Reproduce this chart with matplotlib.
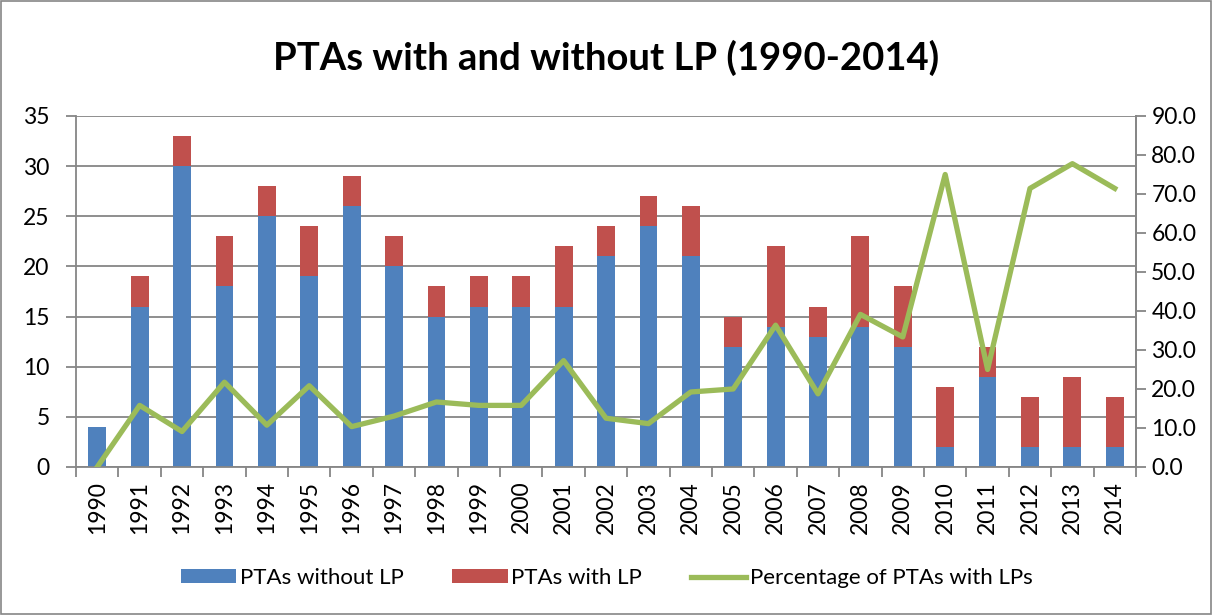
import matplotlib
matplotlib.use("Agg")
from matplotlib import pyplot as plt
import numpy as np

years = list(range(1990, 2015))
without_lp = [4, 16, 30, 18, 25, 19, 26, 20, 15, 16, 16, 16, 21, 24, 21, 12, 14, 13, 14, 12, 2, 9, 2, 2, 2]
with_lp = [0, 3, 3, 5, 3, 5, 3, 3, 3, 3, 3, 6, 3, 3, 5, 3, 8, 3, 9, 6, 6, 3, 5, 7, 5]
total = [a + b for a, b in zip(without_lp, with_lp)]
pct = [100.0 * b / t for b, t in zip(with_lp, total)]

plt.rcParams['font.family'] = ['Lato', 'DejaVu Sans']
grey = '#868686'

fig = plt.figure(figsize=(12.13, 6.15), dpi=100)
# outer border
fig.patches.append(plt.Rectangle((0.001, 0.001), 0.997, 0.997, transform=fig.transFigure,
                                 fill=False, edgecolor=grey, linewidth=1.2))
ax = fig.add_axes([0.0627, 0.2407, 0.8738, 0.5707])
x = np.arange(len(years))
b1 = ax.bar(x, without_lp, width=0.42, color='#4F81BD', label='PTAs without LP', zorder=2)
b2 = ax.bar(x, with_lp, width=0.42, bottom=without_lp, color='#C0504D', label='PTAs with LP', zorder=2)
ax.set_xlim(-0.5, len(years) - 0.5)
ax.set_ylim(0, 35)
ax.set_yticks(range(0, 36, 5))
ax.yaxis.grid(True, color=grey, linewidth=1.3, zorder=0)
ax.set_axisbelow(True)
ax.set_xticks(x)
ax.set_xticklabels([str(y) for y in years], rotation=90, fontsize=16.5)
ax.tick_params(axis='x', length=0, pad=10)
ax.set_xticks(np.arange(-0.5, len(years), 1), minor=True)
ax.tick_params(axis='x', which='minor', length=7, color=grey, width=1.3)
ax.tick_params(axis='y', labelsize=16.5, length=7, color=grey, width=1.3, pad=12)
ax.spines['top'].set_visible(False)
for s in ['left', 'bottom', 'right']:
    ax.spines[s].set_color(grey)
    ax.spines[s].set_linewidth(1.3)

ax2 = ax.twinx()
ln, = ax2.plot(x, pct, color='#9BBB59', linewidth=3.8, label='Percentage of PTAs with LPs', zorder=3)
ax2.set_ylim(0, 90)
ax2.set_yticks(range(0, 91, 10))
ax2.set_yticklabels(['{:.1f}'.format(v) for v in range(0, 91, 10)])
ax2.tick_params(axis='y', labelsize=16.5, length=7, color=grey, width=1.3, pad=4)
ax2.spines['top'].set_visible(False)
ax2.spines['right'].set_color(grey)
ax2.spines['right'].set_linewidth(1.3)
ax2.spines['left'].set_visible(False)
ax2.spines['bottom'].set_visible(False)

fig.suptitle('PTAs with and without LP (1990-2014)', fontsize=27.5, fontweight='bold', y=0.935)
fig.legend(handles=[b1, b2, ln], loc='center', bbox_to_anchor=(0.5, 0.06), ncol=3,
           frameon=False, fontsize=16, handlelength=2.5, handleheight=0.6, columnspacing=2.2,
           handletextpad=0.15)
plt.savefig('out.png', dpi=100)
